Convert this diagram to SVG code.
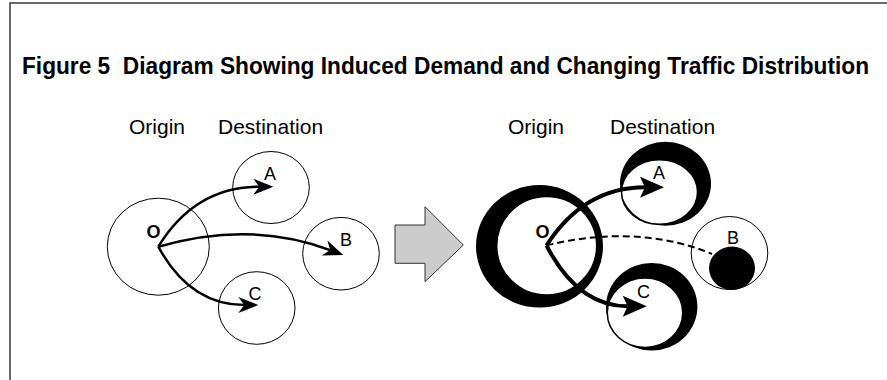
<svg xmlns="http://www.w3.org/2000/svg" width="887" height="380" viewBox="0 0 887 380">
<style>
.frame{stroke:#3a3a3a;stroke-width:1.5;fill:none}
.title{font-family:"Liberation Sans",Arial,sans-serif;font-weight:bold;font-size:23px;fill:#000}
.hdr{font-family:"Liberation Sans",Arial,sans-serif;font-size:21px;fill:#000}
.lbl{font-family:"Liberation Sans",Arial,sans-serif;font-size:18px;fill:#000;text-anchor:middle}
.olbl{font-family:"Liberation Sans",Arial,sans-serif;font-size:18px;font-weight:bold;fill:#000;text-anchor:middle}
.thin{fill:#fff;stroke:#000;stroke-width:1}
.ring{fill:#000;fill-rule:evenodd;stroke:none}
.inner{fill:none;stroke:#000;stroke-width:1.5}
.arrS{fill:none;stroke:#000;stroke-width:2.5;marker-end:url(#headS)}
.arrL{fill:none;stroke:#000;stroke-width:4;marker-end:url(#headL)}
.dash{fill:none;stroke:#000;stroke-width:2;stroke-dasharray:7 4}
</style>
<defs>
<marker id="headS" markerUnits="userSpaceOnUse" markerWidth="20" markerHeight="16" refX="6" refY="8" orient="auto" overflow="visible">
<path d="M0,0 L20,8 L0,16 L6,8 Z" fill="#000"/>
</marker>
<marker id="headL" markerUnits="userSpaceOnUse" markerWidth="24" markerHeight="21" refX="5" refY="10.5" orient="auto" overflow="visible">
<path d="M0,0 L24,10.5 L0,21 L5,10.5 Z" fill="#000"/>
</marker>
</defs>
<rect width="887" height="380" fill="#fff"/>
<g id="frame">
<path class="frame" d="M10,380 L10,3 L887,3"/>
</g>
<g id="title">
<text class="title" x="22" y="74" xml:space="preserve" textLength="847" lengthAdjust="spacingAndGlyphs">Figure 5  Diagram Showing Induced Demand and Changing Traffic Distribution</text>
</g>
<g id="headers">
<text class="hdr" x="129" y="133.5">Origin</text>
<text class="hdr" x="218" y="133.5">Destination</text>
<text class="hdr" x="508" y="133.5">Origin</text>
<text class="hdr" x="610" y="133.5">Destination</text>
</g>
<g id="left-O">
<ellipse class="thin" cx="158.3" cy="246.7" rx="51" ry="48.5"/>
</g>
<g id="left-A">
<ellipse class="thin" cx="271" cy="187.5" rx="38.3" ry="36"/>
</g>
<g id="left-B">
<ellipse class="thin" cx="341" cy="253.7" rx="38.3" ry="36.3"/>
</g>
<g id="left-C">
<ellipse class="thin" cx="256.7" cy="308" rx="38.3" ry="36.3"/>
</g>
<g id="block-arrow">
<polygon points="395,225 425,225 425,206.7 463.3,245 425,281.7 425,263.3 395,263.3" fill="#cccccc" stroke="#333" stroke-width="1"/>
</g>
<g id="right-O">
<path class="ring" d="M476,246.3 a63.5,61.3 0 1,0 127,0 a63.5,61.3 0 1,0 -127,0 Z M496.7,245.8 a50,49.2 0 1,0 100,0 a50,49.2 0 1,0 -100,0 Z"/>
<ellipse class="inner" cx="546.7" cy="245.8" rx="50" ry="49.2"/>
</g>
<g id="right-A">
<path class="ring" d="M620,183.7 a45.5,42 0 1,0 91,0 a45.5,42 0 1,0 -91,0 Z M621.5,192 a38,32.3 0 1,0 76,0 a38,32.3 0 1,0 -76,0 Z"/>
<ellipse class="inner" cx="659.5" cy="192" rx="38" ry="32.3"/>
</g>
<g id="right-C">
<path class="ring" d="M606,306.8 a45.7,43.8 0 1,0 91.4,0 a45.7,43.8 0 1,0 -91.4,0 Z M607.3,312.7 a37.7,34.7 0 1,0 75.4,0 a37.7,34.7 0 1,0 -75.4,0 Z"/>
<ellipse class="inner" cx="645" cy="312.7" rx="37.7" ry="34.7"/>
</g>
<g id="right-B">
<ellipse class="thin" cx="729.5" cy="253" rx="38.3" ry="36.5"/>
<ellipse cx="732" cy="268.3" rx="23" ry="21.7" fill="#000"/>
</g>
<g id="connectors">
<path class="arrS" d="M158.3,246.7 Q195,186.7 259.3,186.7"/>
<path class="arrS" d="M158.3,246.7 Q250,220 330.2,250.1"/>
<path class="arrS" d="M158.3,246.7 Q190,305 244.3,305"/>
<path class="arrL" d="M546.5,245.5 Q584,187.3 645,187.3"/>
<path class="dash" d="M546.5,245.5 C600,232 660,232 712,254"/>
<path class="arrL" d="M546.5,245.5 Q578,306.3 627.7,306.3"/>
</g>
<g id="node-labels">
<text class="olbl" x="153.5" y="238">O</text>
<text class="lbl" x="270" y="180">A</text>
<text class="lbl" x="346" y="246">B</text>
<text class="lbl" x="255" y="300">C</text>
<text class="olbl" x="542.5" y="237.5">O</text>
<text class="lbl" x="659" y="178.5">A</text>
<text class="lbl" x="733" y="244">B</text>
<text class="lbl" x="643.5" y="298">C</text>
</g>
</svg>
